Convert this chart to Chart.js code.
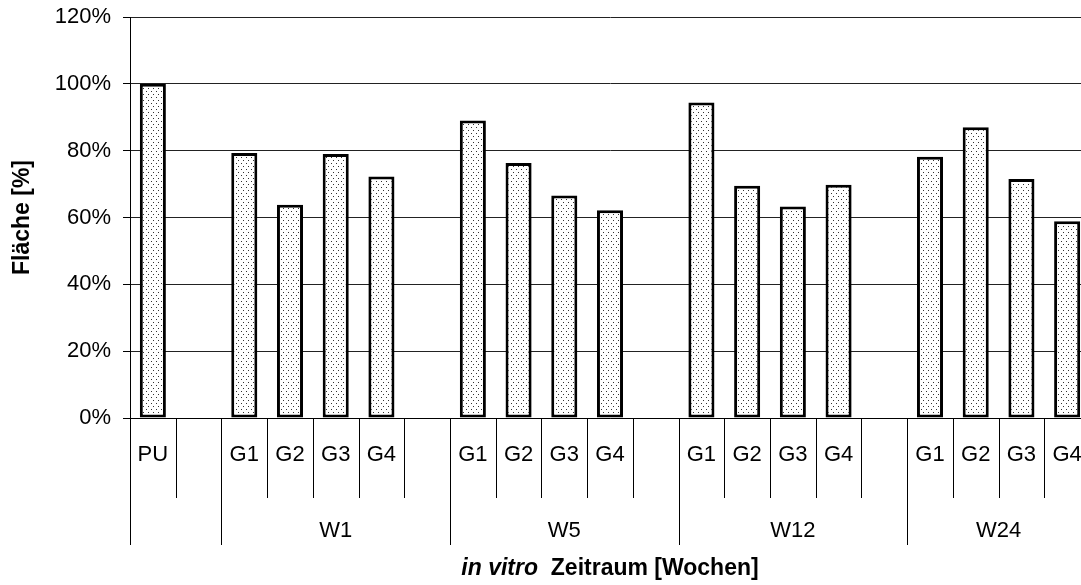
<!DOCTYPE html>
<html>
<head>
<meta charset="utf-8">
<script src="https://cdn.jsdelivr.net/npm/chart.js@4/dist/chart.umd.min.js"></script>
<style>
  body { margin: 0; overflow: hidden; background: #fff; }
  canvas { display: block; }
</style>
</head>
<body>
<canvas id="flaecheChart" width="1100" height="585"></canvas>
<script>
// categories (first row of the x axis), blanks are the gaps between weeks
const categories = ['PU', '', 'G1', 'G2', 'G3', 'G4', '', 'G1', 'G2', 'G3', 'G4', '', 'G1', 'G2', 'G3', 'G4', '', 'G1', 'G2', 'G3', 'G4'];
// Fläche in %
const flaeche = [100, null, 79.3, 63.8, 79.0, 72.3, null, 89.0, 76.3, 66.6, 62.2, null, 94.4, 69.5, 63.3, 69.8, null, 78.2, 87.0, 71.5, 58.9];
// second row of the x axis
const weekLabels = ['', 'W1', 'W5', 'W12', 'W24'];
const weekStart = [0, 2, 7, 12, 17];
const yTicks = [0, 20, 40, 60, 80, 100, 120];

const fontFamily = "'Liberation Sans', Arial, Helvetica, sans-serif";

// dotted fill like the old excel pattern
function makeDots() {
    const c = document.createElement('canvas');
    c.width = 5;
    c.height = 6;
    const g = c.getContext('2d');
    g.fillStyle = '#fff';
    g.fillRect(0, 0, 5, 6);
    g.fillStyle = '#333';
    g.fillRect(1, 1, 1, 1);
    g.fillRect(3, 4, 1, 1);
    return g.createPattern(c, 'repeat');
}

const multiAxis = {
    id: 'multiAxis',
    afterDraw(chart) {
        const ctx = chart.ctx;
        const x = chart.scales.x;
        const bottom = chart.chartArea.bottom;
        const step = x.getPixelForValue(1) - x.getPixelForValue(0);
        const n = categories.length;

        ctx.save();
        ctx.strokeStyle = '#000';
        ctx.lineWidth = 1;
        for (let i = 0; i <= n; i++) {
            const px = Math.round(x.getPixelForValue(0) - step / 2 + i * step) + 0.5;
            const long = weekStart.includes(i) || i === n;
            ctx.beginPath();
            ctx.moveTo(px, bottom);
            ctx.lineTo(px, long ? 545 : 498);
            ctx.stroke();
        }

        ctx.fillStyle = '#000';
        ctx.textAlign = 'center';
        ctx.textBaseline = 'middle';
        ctx.font = '22px ' + fontFamily;
        categories.forEach((c, i) => {
            ctx.fillText(c, x.getPixelForValue(i), 455);
        });
        weekLabels.forEach((w, k) => {
            const a = weekStart[k];
            const b = k + 1 < weekStart.length ? weekStart[k + 1] : n;
            const mid = x.getPixelForValue(0) - step / 2 + (a + b) / 2 * step;
            ctx.fillText(w, mid, 531);
        });

        // axis title, "in vitro" in italic
        const part1 = 'italic bold 23px ' + fontFamily;
        const part2 = 'bold 23px ' + fontFamily;
        ctx.font = part1;
        const w1 = ctx.measureText('in vitro').width;
        ctx.font = part2;
        const w2 = ctx.measureText('  Zeitraum [Wochen]').width;
        const cx = (chart.chartArea.left + chart.chartArea.right) / 2;
        let sx = cx - (w1 + w2) / 2;
        ctx.textAlign = 'left';
        ctx.font = part1;
        ctx.fillText('in vitro', sx, 569);
        ctx.font = part2;
        ctx.fillText('  Zeitraum [Wochen]', sx + w1, 569);
        ctx.restore();
    }
};

const ctx = document.getElementById('flaecheChart').getContext('2d');
new Chart(ctx, {
    type: 'bar',
    data: {
        labels: categories,
        datasets: [{
            label: 'Fläche',
            data: flaeche,
            backgroundColor: makeDots(),
            borderColor: '#000',
            borderWidth: 3,
            borderSkipped: false,
            barPercentage: 0.57,
            categoryPercentage: 1.0
        }]
    },
    options: {
        responsive: false,
        animation: false,
        layout: {
            padding: { top: 17, right: 10, bottom: 167, left: 0 }
        },
        plugins: {
            legend: { display: false },
            tooltip: { enabled: false }
        },
        scales: {
            x: {
                ticks: { display: false },
                grid: { display: false, drawTicks: false },
                border: { display: true, color: '#000', width: 1 }
            },
            y: {
                min: 0,
                max: 120,
                afterFit(scale) {
                    scale.width = 130;
                    scale.paddingTop = 0;
                    scale.paddingBottom = 0;
                },
                afterBuildTicks(scale) {
                    scale.ticks = yTicks.map(v => ({ value: v }));
                },
                ticks: {
                    padding: 12,
                    color: '#000',
                    font: { family: fontFamily, size: 22 },
                    callback: v => v + '%'
                },
                grid: {
                    color: '#222',
                    lineWidth: 1,
                    tickLength: 7,
                    tickColor: '#000'
                },
                border: { display: true, color: '#000', width: 1 },
                title: {
                    display: true,
                    text: 'Fläche [%]',
                    color: '#000',
                    font: { family: fontFamily, size: 23, weight: 'bold' },
                    padding: { top: 9, bottom: 0 }
                }
            }
        }
    },
    plugins: [multiAxis]
});
</script>
</body>
</html>
